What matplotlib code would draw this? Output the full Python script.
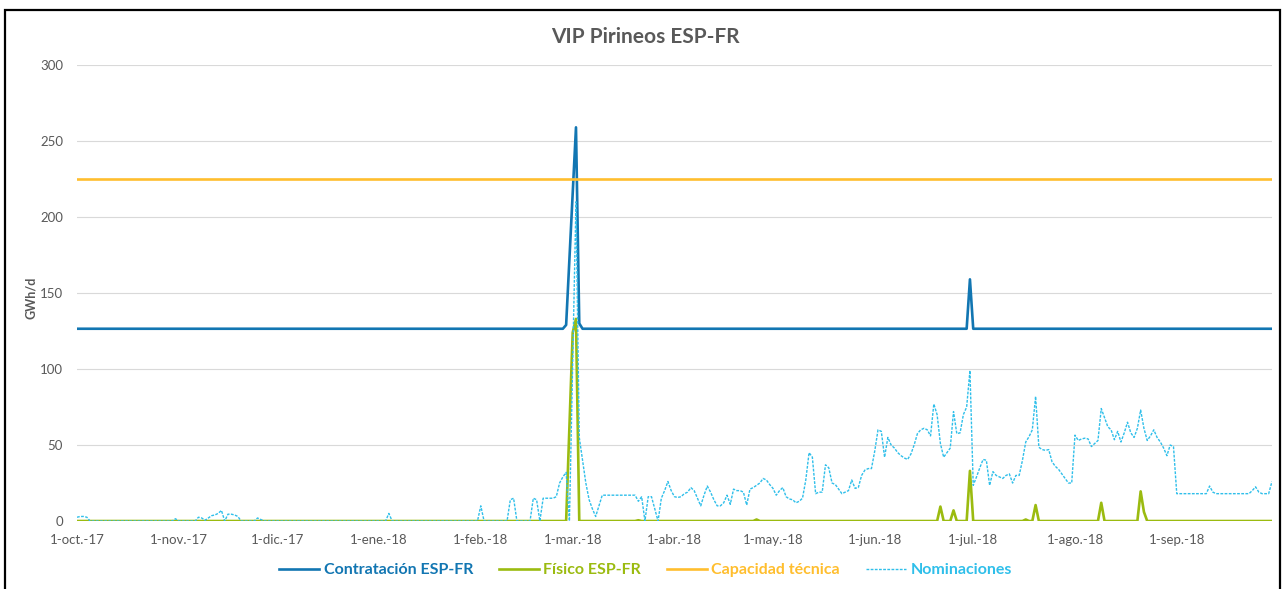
import numpy as np
import pandas as pd
import matplotlib
matplotlib.use("Agg")
import matplotlib.pyplot as plt
from matplotlib.patches import Rectangle

plt.rcParams['font.family'] = ['Lato', 'DejaVu Sans']

# daily values 1-oct-2017 .. 30-sep-2018 (GWh/d)
start_date = '2017-10-01'
n_days = 365

nominaciones = [
    # oct
    2.5, 3, 3, 2.5, 0, 0, 0, 0, 0, 0, 0, 0, 0, 0, 0, 0, 0, 0, 0, 0,
    0, 0, 0, 0, 0, 0, 0, 0, 0, 0, 1.5,
    # nov
    0, 0, 0, 0, 0, 0, 2.5, 2, 0.5, 2, 3.5, 4, 5, 7, 0, 4.5, 4.5, 4, 3, 0,
    0, 0, 0, 0, 2, 1, 0, 0, 0, 0,
    # dic
    0, 0, 0, 0, 0, 0, 0, 0, 0, 0, 0, 0, 0, 0, 0, 0, 0, 0, 0, 0,
    0, 0, 0, 0, 0, 0, 0, 0, 0, 0, 0,
    # ene
    0, 0, 0, 5, 0, 0, 0, 0, 0, 0, 0, 0, 0, 0, 0, 0, 0, 0, 0, 0,
    0, 0, 0, 0, 0, 0, 0, 0, 0, 0, 0,
    # feb
    10, 0, 0, 0, 0, 0, 0, 0, 0, 14, 15, 0, 0, 0, 0, 0, 15, 14, 0, 15,
    15, 15, 15, 16, 25, 29, 32, 0,
    # mar
    105, 210, 55, 40, 25, 14, 8, 3, 10, 17, 17, 17, 17, 17, 17, 17, 17, 17, 17, 17,
    13, 16, 0, 16, 16, 8, 0, 15, 20, 26, 20,
    # abr
    16, 15.5, 16, 18, 19, 22, 20, 15, 10, 17, 23, 19, 14, 10, 10, 12, 17, 11, 21, 20,
    20, 19, 10.5, 21, 22, 23.5, 25, 28, 27, 24,
    # may
    21.5, 17, 20, 22, 16, 14.5, 14, 12, 13, 15, 27, 45, 42, 18, 19, 19, 37, 35, 25, 24,
    21, 18, 19, 20, 27, 21.5, 22, 30, 33.5, 34.5, 34.5,
    # jun
    46, 60, 59, 42, 55, 50, 48, 45, 43, 41.5, 40.5, 44, 50, 57.5, 60, 61, 60, 56, 77, 70,
    51, 42, 45, 48, 72, 57.5, 58, 70, 75, 99,
    # jul
    23.5, 29, 35, 40.5, 40, 23.5, 32.5, 30, 29, 28, 30, 31, 25, 30, 30, 40, 52, 55.5, 60, 82,
    48.5, 47, 46.5, 47, 39, 36, 34, 31, 28, 25, 25,
    # ago
    56.5, 53, 54, 54.5, 54, 49, 51, 53, 74, 68, 62, 60, 53.5, 59, 52, 58, 65, 58, 55, 61,
    73, 61, 53, 56, 60, 55, 52, 48, 43, 50, 49,
    # sep
    18, 18, 18, 18, 18, 18, 18, 18, 18, 18, 23, 19, 18, 18, 18, 18, 18, 18, 18, 18,
    18, 18, 18, 20, 22.5, 19, 18, 18, 18, 26,
]

contratacion_base = 126.5
contratacion_spikes = {
    '2018-02-27': 129, '2018-02-28': 172, '2018-03-01': 215,
    '2018-03-02': 259, '2018-03-03': 130, '2018-06-30': 159,
}

fisico_base = 0
fisico_spikes = {
    '2018-02-28': 62, '2018-03-01': 124, '2018-03-02': 133,
    '2018-03-21': 0.5, '2018-04-26': 1, '2018-06-21': 9.5,
    '2018-06-25': 7, '2018-06-30': 33, '2018-07-17': 1,
    '2018-07-20': 10.5, '2018-08-09': 12, '2018-08-21': 19.5,
    '2018-08-22': 6,
}

capacidad_tecnica = 225

month_labels = ['1-oct.-17', '1-nov.-17', '1-dic.-17', '1-ene.-18', '1-feb.-18',
                '1-mar.-18', '1-abr.-18', '1-may.-18', '1-jun.-18', '1-jul.-18',
                '1-ago.-18', '1-sep.-18']

dates = pd.date_range(start_date, periods=n_days, freq='D')
df = pd.DataFrame(index=dates)
df['contratacion'] = float(contratacion_base)
for k, v in contratacion_spikes.items():
    df.loc[k, 'contratacion'] = v
df['fisico'] = float(fisico_base)
for k, v in fisico_spikes.items():
    df.loc[k, 'fisico'] = v
df['capacidad'] = float(capacidad_tecnica)
df['nominaciones'] = nominaciones

c_blue = '#1276b2'
c_green = '#9bbb10'
c_orange = '#ffbe2e'
c_light = '#2fbfea'
c_text = '#595959'

fig = plt.figure(figsize=(12.83, 5.89), dpi=100)
ax = fig.add_axes([0.060, 0.1154, 0.9314, 0.7742])

ax.plot(df.index, df['contratacion'], color=c_blue, lw=1.9, label='Contratación ESP-FR')
ax.plot(df.index, df['fisico'], color=c_green, lw=1.9, label='Físico ESP-FR')
ax.plot(df.index, df['capacidad'], color=c_orange, lw=1.9, label='Capacidad técnica')
ax.plot(df.index, df['nominaciones'], color=c_light, lw=1.0,
        linestyle=(0, (2, 1)), label='Nominaciones')

ax.set_xlim(dates[0], dates[-1])
ax.set_ylim(0, 300)
ax.set_yticks(range(0, 301, 50))
ax.grid(axis='y', color='#d9d9d9', lw=0.8)
ax.set_axisbelow(True)
for s in ax.spines.values():
    s.set_visible(False)

month_starts = pd.date_range(start_date, periods=12, freq='MS')
ax.set_xticks(month_starts)
ax.set_xticklabels(month_labels)
ax.tick_params(axis='both', length=0, labelsize=9.5, colors=c_text)
ax.tick_params(axis='x', pad=9)
ax.tick_params(axis='y', pad=10)

fig.text(0.5027, 1 - 37 / 589, 'VIP Pirineos ESP-FR', ha='center', va='center',
         fontsize=15, fontweight='bold', color=c_text)
fig.text(31 / 1283, 1 - 298 / 589, 'GWh/d', rotation=90, ha='center', va='center',
         fontsize=9, fontweight='bold', color=c_text)

fig.legend(loc='center', bbox_to_anchor=(0.503, 1 - 570 / 589), ncol=4,
           frameon=False, labelcolor='linecolor', handlelength=2.5,
           handletextpad=0.3, columnspacing=1.6,
           prop={'size': 11.5, 'weight': 'bold'})

fig.add_artist(Rectangle((5 / 1283, -0.05), 1275 / 1283, 1 - 10 / 589 + 0.05,
                         transform=fig.transFigure, fill=False,
                         edgecolor='black', lw=1.6))

fig.savefig('out.png', dpi=100)
